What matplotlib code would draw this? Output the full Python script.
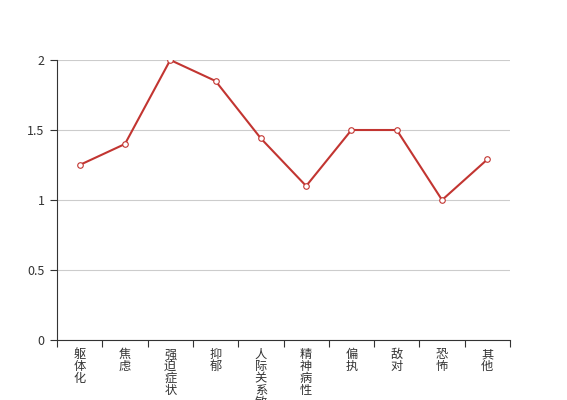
import matplotlib
matplotlib.use('Agg')
import matplotlib.pyplot as plt
from matplotlib.ticker import FixedLocator

plt.rcParams['font.family'] = ['Noto Sans CJK SC', 'DejaVu Sans']

categories = ['躯体化', '焦虑', '强迫症状', '抑郁', '人际关系敏感', '精神病性', '偏执', '敌对', '恐怖', '其他']
values = [1.25, 1.4, 2.0, 1.85, 1.44, 1.1, 1.5, 1.5, 1.0, 1.29]
yticks = [0, 0.5, 1, 1.5, 2]
ylabels = ['0', '0.5', '1', '1.5', '2']

fig = plt.figure(figsize=(5.67, 4.0), dpi=100)
ax = fig.add_axes([57/567, 60/400, 453/567, 280/400])

x = list(range(len(categories)))
ax.plot(x, values, color='#c23531', linewidth=1.5, marker='o', markersize=4,
        markerfacecolor='white', markeredgecolor='#c23531', markeredgewidth=0.8, zorder=3)

ax.set_xlim(-0.5, len(categories) - 0.5)
ax.set_ylim(0, 2)
ax.set_yticks(yticks)
ax.set_yticklabels(ylabels)
ax.grid(axis='y', color='#cccccc', linewidth=0.8)
ax.set_axisbelow(True)

# category labels at centres, tick marks at boundaries
ax.set_xticks(x)
ax.set_xticklabels(['\n'.join(c) for c in categories], color='#333333', fontsize=8.8,
                   va='top', linespacing=0.88)
ax.tick_params(axis='x', which='major', length=0, pad=6)
ax.xaxis.set_minor_locator(FixedLocator([i - 0.5 for i in range(len(categories) + 1)]))
ax.tick_params(axis='x', which='minor', length=5, color='#333333', width=0.8)
ax.tick_params(axis='y', length=5, width=0.8, color='#333333', labelcolor='#333333', labelsize=9, pad=4)

for s in ['top', 'right']:
    ax.spines[s].set_visible(False)
for s in ['left', 'bottom']:
    ax.spines[s].set_color('#333333')
    ax.spines[s].set_linewidth(0.8)

fig.savefig('out.png', dpi=100)
